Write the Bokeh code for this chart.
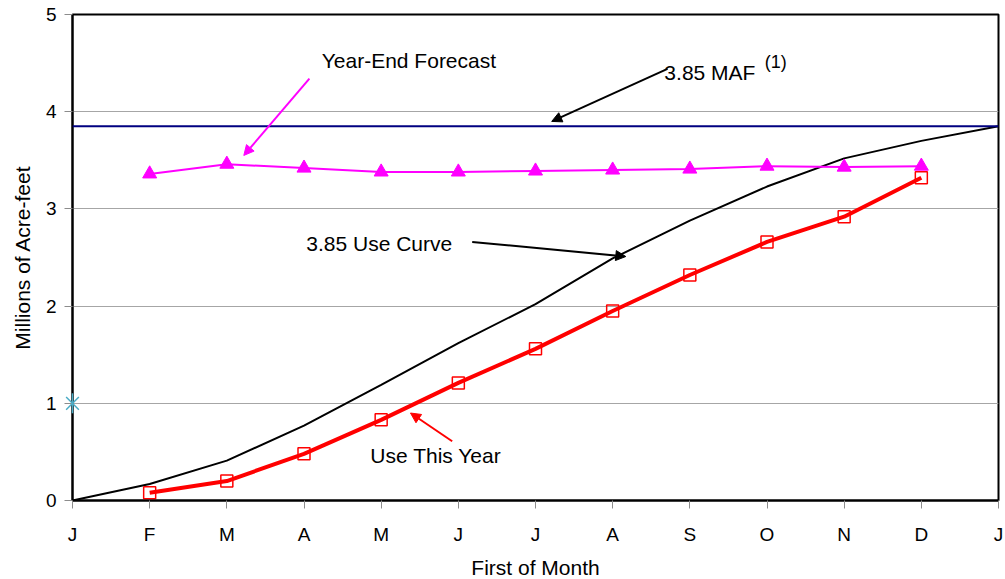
import math
from bokeh.plotting import figure
from bokeh.models import FixedTicker, Span, Label, Arrow, NormalHead, Range1d
from bokeh.embed import file_html
from bokeh.resources import INLINE

# ---- data ----
months = ["J", "F", "M", "A", "M", "J", "J", "A", "S", "O", "N", "D", "J"]
month_pos = list(range(13))
use_curve = [0.0, 0.17, 0.41, 0.77, 1.19, 1.62, 2.02, 2.49, 2.88, 3.23, 3.52, 3.70, 3.85]
year_pos = list(range(1, 12))
use_this_year = [0.08, 0.20, 0.48, 0.83, 1.21, 1.56, 1.95, 2.32, 2.66, 2.92, 3.32]
forecast = [3.36, 3.46, 3.42, 3.38, 3.38, 3.39, 3.40, 3.41, 3.44, 3.43, 3.44]
maf_target = 3.85
star_x = [0]
star_y = [1]
y_ticks = [0, 1, 2, 3, 4, 5]

FONT = "Liberation Sans"

p = figure(frame_width=926, frame_height=486, output_backend="svg", toolbar_location=None,
           x_range=Range1d(0, 12), y_range=Range1d(0, 5),
           min_border_left=72, min_border_top=14, min_border_right=5, min_border_bottom=75)
p.background_fill_color = "white"
p.border_fill_color = "white"
p.outline_line_color = "black"
p.outline_line_width = 2

p.xaxis.ticker = FixedTicker(ticks=month_pos)
p.xaxis.major_label_overrides = {i: m for i, m in enumerate(months)}
p.yaxis.ticker = FixedTicker(ticks=y_ticks)

for ax in (p.xaxis, p.yaxis):
    ax.axis_line_color = "black"
    ax.axis_line_width = 2
    ax.major_tick_in = 0
    ax.major_tick_out = 8
    ax.major_tick_line_color = "#8c8c8c"
    ax.minor_tick_line_color = None
    ax.major_label_text_font = FONT
    ax.major_label_text_font_size = "19px"
    ax.major_label_text_color = "black"
    ax.axis_label_text_font = FONT
    ax.axis_label_text_font_size = "21px"
    ax.axis_label_text_font_style = "normal"
    ax.axis_label_text_color = "black"

p.xaxis.axis_label = "First of Month"
p.yaxis.axis_label = "Millions of Acre-feet"
p.xaxis.major_label_standoff = 15
p.xaxis.axis_label_standoff = 8
p.yaxis.major_label_standoff = 8
p.yaxis.axis_label_standoff = 9

p.xgrid.grid_line_color = None
p.ygrid.grid_line_color = "#a6a6a6"
p.ygrid.grid_line_width = 1

# lines
p.line(month_pos, use_curve, line_color="black", line_width=2)
p.add_layout(Span(location=maf_target, dimension="width", line_color="#000080", line_width=2))
p.line(year_pos, forecast, line_color="#ff00ff", line_width=2)
p.scatter(year_pos, forecast, marker="triangle", size=14, fill_color="#ff00ff", line_color="#ff00ff")
p.line(year_pos, use_this_year, line_color="#ff0000", line_width=4)
p.scatter(year_pos, use_this_year, marker="square", size=12, fill_color=None,
          line_color="#ff0000", line_width=1.5)
star1 = p.scatter(star_x, star_y, marker="x", size=18, line_color="#4bacc6", line_width=1.5)
star2 = p.scatter(star_x, star_y, marker="dash", size=20, angle=math.pi / 2,
                  line_color="#4bacc6", line_width=1.5)
star1.level = "overlay"
star2.level = "overlay"

# annotations
def label(x, y, text, size="21px"):
    p.add_layout(Label(x=x, y=y, text=text, text_font=FONT, text_font_size=size,
                       text_color="black", text_baseline="middle", text_align="left"))

def arrow(x0, y0, x1, y1, color):
    p.add_layout(Arrow(x_start=x0, y_start=y0, x_end=x1, y_end=y1, line_color=color, line_width=2,
                       end=NormalHead(size=10, fill_color=color, line_color=color)))

label(3.23, 4.53, "Year-End Forecast")
arrow(3.07, 4.34, 2.22, 3.55, "#ff00ff")

label(7.67, 4.40, "3.85 MAF")
label(8.97, 4.51, "(1)", size="18px")
arrow(7.71, 4.44, 6.21, 3.90, "black")

label(3.03, 2.64, "3.85 Use Curve")
arrow(5.18, 2.66, 7.17, 2.51, "black")

label(3.86, 0.46, "Use This Year")
arrow(4.92, 0.61, 4.38, 0.90, "#ff0000")

open("out.html", "w").write(file_html(p, INLINE))
